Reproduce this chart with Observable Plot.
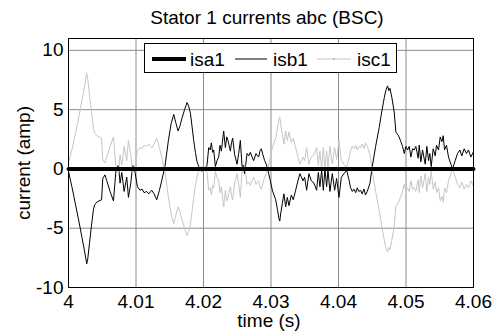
<!DOCTYPE html>
<html><head><meta charset="utf-8">
<script src="https://cdn.jsdelivr.net/npm/d3@7"></script>
<script src="https://cdn.jsdelivr.net/npm/@observablehq/plot@0.6"></script>
<style>body{margin:0;background:#fff} svg{display:block}</style>
</head><body><div id="chart"></div>
<script>
const title = "Stator 1 currents abc (BSC)";
const xLabel = "time (s)";
const yLabel = "current (amp)";
const seriesNames = ["isa1", "isb1", "isc1"];
const xTicks = [4, 4.01, 4.02, 4.03, 4.04, 4.05, 4.06];
const yTicks = [-10, -5, 0, 5, 10];

const time = [
4.00000, 4.00050, 4.00100, 4.00150, 4.00200, 4.00240, 4.00270, 4.00285, 4.00310, 4.00340,
4.00370, 4.00390, 4.00420, 4.00450, 4.00490, 4.00508, 4.00540, 4.00567, 4.00616, 4.00666,
4.00705, 4.00740, 4.00764, 4.00789, 4.00824, 4.00863, 4.00888, 4.00922, 4.00952, 4.00986,
4.01021, 4.01060, 4.01090, 4.01120, 4.01159, 4.01190, 4.01233, 4.01268, 4.01307, 4.01347,
4.01381, 4.01431, 4.01480, 4.01520, 4.01559, 4.01590, 4.01623, 4.01650, 4.01682, 4.01720,
4.01756, 4.01780, 4.01806, 4.01830, 4.01855, 4.01880, 4.01904, 4.01930, 4.01954, 4.01980,
4.02003, 4.02030, 4.02052, 4.02077, 4.02100, 4.02116, 4.02135, 4.02151, 4.02176, 4.02200,
4.02225, 4.02245, 4.02265, 4.02299, 4.02324, 4.02345, 4.02363, 4.02398, 4.02415, 4.02432,
4.02462, 4.02497, 4.02521, 4.02546, 4.02571, 4.02590, 4.02610, 4.02645, 4.02670, 4.02694,
4.02720, 4.02743, 4.02778, 4.02800, 4.02817, 4.02835, 4.02857, 4.02880, 4.02906, 4.02930,
4.02955, 4.02990, 4.03020, 4.03069, 4.03095, 4.03118, 4.03130, 4.03143, 4.03168, 4.03192,
4.03217, 4.03242, 4.03266, 4.03301, 4.03330, 4.03365, 4.03399, 4.03429, 4.03474, 4.03498,
4.03528, 4.03562, 4.03597, 4.03637, 4.03676, 4.03701, 4.03725, 4.03750, 4.03775, 4.03799,
4.03824, 4.03844, 4.03873, 4.03908, 4.03943, 4.03972, 4.04007, 4.04042, 4.04081, 4.04120,
4.04155, 4.04179, 4.04205, 4.04229, 4.04255, 4.04278, 4.04300, 4.04328, 4.04350, 4.04377,
4.04400, 4.04426, 4.04466, 4.04500, 4.04550, 4.04603, 4.04640, 4.04678, 4.04700, 4.04727,
4.04745, 4.04762, 4.04791, 4.04825, 4.04850, 4.04890, 4.04924, 4.04949, 4.04974, 4.04998,
4.05023, 4.05048, 4.05072, 4.05097, 4.05122, 4.05146, 4.05181, 4.05196, 4.05220, 4.05245,
4.05285, 4.05309, 4.05334, 4.05353, 4.05373, 4.05403, 4.05433, 4.05452, 4.05482, 4.05507,
4.05532, 4.05551, 4.05571, 4.05600, 4.05630, 4.05665, 4.05689, 4.05729, 4.05763, 4.05798,
4.05827, 4.05862, 4.05896, 4.05926, 4.05961, 4.05995, 4.06000
];

const isb1 = [
-0.2, -1.5, -2.9, -4.3, -5.8, -7.0, -8.0, -7.6, -6.3, -4.8,
-3.4, -3.0, -2.8, -2.7, -2.6, -0.8, -0.5, -1.0, -1.9, -2.7,
0.0, 0.3, -1.2, -0.3, -1.9, -0.7, -2.4, -1.2, 0.3, -0.3,
-1.5, -1.8, -1.7, -2.0, -1.9, -2.1, -1.8, -2.1, -2.6, -1.8,
-1.0, 0.3, 2.4, 3.8, 4.6, 3.9, 3.2, 3.6, 4.3, 5.0,
5.6, 5.3, 4.7, 3.6, 2.4, 1.4, 0.6, 0.2, -0.1, -0.2,
0.0, 0.1, 0.3, 1.8, 1.6, 2.2, 1.4, 1.6, 0.2, 0.7,
1.0, 2.0, 1.5, 3.2, 1.8, 2.7, 2.4, 1.5, 2.2, 2.6,
1.2, 0.4, 1.3, 2.4, 0.2, 0.3, -0.4, 1.3, 1.1, 1.4,
1.0, 0.7, 1.3, 1.1, 1.0, 1.5, 1.7, 1.2, 0.7, 0.4,
-0.1, -1.0, -1.8, -2.6, -3.4, -4.2, -4.4, -3.8, -2.9, -2.1,
-3.2, -2.4, -3.1, -2.2, -2.6, -1.8, -1.0, -0.4, -1.0, -0.7,
-1.8, -0.4, -1.0, -1.2, -1.8, -0.3, -1.5, -0.1, -1.8, 0.0,
-1.5, -0.1, -1.9, -0.4, -1.8, -0.8, -2.4, -0.7, -0.4, -0.1,
-0.9, -1.6, -1.9, -1.7, -2.0, -1.6, -1.9, -1.8, -2.1, -1.7,
-2.2, -1.9, -1.2, 0.2, 1.9, 3.5, 4.8, 6.0, 6.6, 7.0,
6.6, 6.8, 6.0, 4.8, 3.1, 2.8, 2.3, 1.9, 1.3, 1.9,
1.6, 1.9, 1.0, 1.7, 1.6, 1.9, 0.9, 2.0, 0.6, 1.6,
0.4, 1.9, 0.7, 1.3, 0.2, 1.7, 1.1, 2.0, 1.6, 2.7,
2.3, 2.8, 1.6, 2.0, 1.0, 0.4, 0.0, 0.7, 1.3, 1.6,
1.1, 1.7, 1.3, 1.6, 1.0, 1.4, 1.3
];

const isc1 = [
0.6, 1.6, 2.9, 4.3, 5.8, 7.0, 8.1, 7.6, 6.3, 4.8,
3.4, 3.0, 2.8, 2.7, 2.6, 0.8, 0.5, 1.0, 1.9, 2.7,
0.0, -0.3, 1.2, 0.3, 1.9, 0.7, 2.4, 1.2, -0.3, 0.3,
1.5, 1.8, 1.7, 2.0, 1.9, 2.1, 1.8, 2.1, 2.6, 1.8,
1.0, -0.3, -2.4, -3.8, -4.6, -3.9, -3.2, -3.6, -4.3, -5.0,
-5.6, -5.3, -4.7, -3.6, -2.4, -1.4, -0.6, -0.2, 0.1, 0.2,
0.0, -0.1, -0.3, -1.8, -1.6, -2.2, -1.4, -1.6, -0.2, -0.7,
-1.0, -2.0, -1.5, -3.2, -1.8, -2.7, -2.4, -1.5, -2.2, -2.6,
-1.2, -0.4, -1.3, -2.4, -0.2, -0.3, 0.4, -1.3, -1.1, -1.4,
-1.0, -0.7, -1.3, -1.1, -1.0, -1.5, -1.7, -1.2, -0.7, -0.4,
0.1, 1.0, 1.8, 2.6, 3.4, 4.2, 4.4, 3.8, 2.9, 2.1,
3.2, 2.4, 3.1, 2.2, 2.6, 1.8, 1.0, 0.4, 1.0, 0.7,
1.8, 0.4, 1.0, 1.2, 1.8, 0.3, 1.5, 0.1, 1.8, 0.0,
1.5, 0.1, 1.9, 0.4, 1.8, 0.8, 2.4, 0.7, 0.4, 0.1,
0.9, 1.6, 1.9, 1.7, 2.0, 1.6, 1.9, 1.8, 2.1, 1.7,
2.2, 1.9, 1.2, -0.2, -1.9, -3.5, -4.8, -6.0, -6.6, -7.0,
-6.6, -6.8, -6.0, -4.8, -3.1, -2.8, -2.3, -1.9, -1.3, -1.9,
-1.6, -1.9, -1.0, -1.7, -1.6, -1.9, -0.9, -2.0, -0.6, -1.6,
-0.4, -1.9, -0.7, -1.3, -0.2, -1.7, -1.1, -2.0, -1.6, -2.7,
-2.3, -2.8, -1.6, -2.0, -1.0, -0.4, 0.0, -0.7, -1.3, -1.6,
-1.1, -1.7, -1.3, -1.6, -1.0, -1.4, -1.3
];

const isa1Time = [4, 4.06];
const isa1 = [0, 0];

const FONT = "'Liberation Sans', Arial, Helvetica, sans-serif";
const n = Math.min(time.length, isb1.length, isc1.length);
const rowsB = d3.range(n).map(i => ({t: time[i], v: isb1[i]}));
const rowsC = d3.range(n).map(i => ({t: time[i], v: isc1[i]}));
const rowsA = isa1Time.map((t, i) => ({t, v: isa1[i]}));

const chart = Plot.plot({
  width: 494, height: 336,
  marginLeft: 68, marginRight: 21, marginTop: 38, marginBottom: 49,
  style: {fontFamily: FONT, fontSize: "19px", background: "#fff", color: "#000", overflow: "visible"},
  x: {domain: [4, 4.06], label: null},
  y: {domain: [-10, 11], label: null},
  marks: [
    Plot.gridX(xTicks, {stroke: "#8c8c8c", strokeOpacity: 1}),
    Plot.gridY(yTicks, {stroke: "#8c8c8c", strokeOpacity: 1}),
    Plot.lineY(rowsB, {x: "t", y: "v", stroke: "#000", strokeWidth: 1}),
    Plot.lineY(rowsC, {x: "t", y: "v", stroke: "#c6c6c6", strokeWidth: 1}),
    Plot.lineY(rowsA, {x: "t", y: "v", stroke: "#000", strokeWidth: 4}),
    Plot.frame({stroke: "#000", strokeWidth: 1}),
    Plot.axisX(xTicks, {tickSize: 0, tickPadding: 7, tickFormat: d => String(d), fontSize: 19, label: null}),
    Plot.axisY(yTicks, {tickSize: 0, tickPadding: 5, tickFormat: d => String(d), fontSize: 19, label: null})
  ]
});
document.getElementById("chart").appendChild(chart);

const svg = d3.select(chart);
const g = svg.append("g").attr("font-family", FONT).attr("font-size", 19).attr("fill", "#000");
g.append("text").attr("x", 267).attr("y", 24).attr("text-anchor", "middle").text(title);
g.append("text").attr("x", 269).attr("y", 327).attr("text-anchor", "middle").text(xLabel);
g.append("text").attr("transform", "translate(30,163) rotate(-90)").attr("text-anchor", "middle").text(yLabel);

// legend
const lg = svg.append("g").attr("font-family", FONT).attr("font-size", 19).attr("text-anchor", "start");
lg.append("rect").attr("x", 144.5).attr("y", 43.5).attr("width", 252).attr("height", 29)
  .attr("fill", "#fff").attr("stroke", "#000").attr("stroke-width", 1);
const entries = [
  {name: seriesNames[0], x1: 152, x2: 186, tx: 190, stroke: "#000", w: 4},
  {name: seriesNames[1], x1: 235, x2: 267, tx: 273, stroke: "#000", w: 1},
  {name: seriesNames[2], x1: 317, x2: 351, tx: 357, stroke: "#c6c6c6", w: 1}
];
for (const e of entries) {
  lg.append("line").attr("x1", e.x1).attr("x2", e.x2).attr("y1", 59).attr("y2", 59)
    .attr("stroke", e.stroke).attr("stroke-width", e.w);
  lg.append("text").attr("x", e.tx).attr("y", 66).attr("fill", "#000").attr("text-anchor", "start").text(e.name);
}
lg.append("circle").attr("cx", 334).attr("cy", 59).attr("r", 1).attr("fill", "#b0b0b0");
</script>
</body></html>
